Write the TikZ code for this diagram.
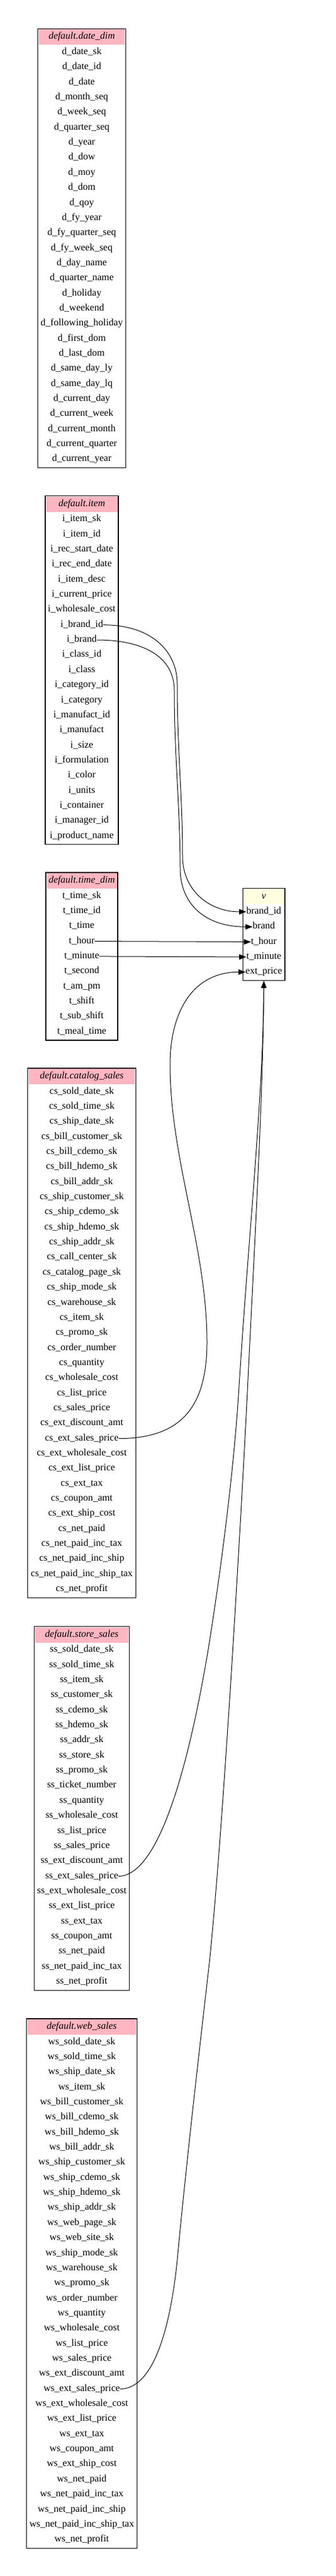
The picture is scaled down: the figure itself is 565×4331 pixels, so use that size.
\documentclass[tikz,border=0pt]{standalone}
\usepackage{fontspec}
\setmainfont{Liberation Serif}
\usetikzlibrary{arrows.meta}
\definecolor{hpink}{HTML}{FFB6C1}
\definecolor{hyellow}{HTML}{FFFFE0}

% name, x, top, width, rows, title, header colour, fields
\newcommand{\dbtable}[8]{%
  \node[tbl, minimum width=#4bp, minimum height={28.5bp+#5*25.35bp}] (#1) at (#2,#3) {};
  \node[hdr, fill=#7, minimum width={#4bp-3bp}] (#1-h) at (#2,#3+1.5) {\textit{#6}};
  \foreach \fieldname [count=\i] in {#8}
    \node[fld] (#1-\i) at (#2,{#3+40.2+(\i-1)*25.35}) {\fieldname};
}

\begin{document}
\catcode`\_=12
\begin{tikzpicture}[x=1bp,y=-1bp,font=\fontsize{16.5bp}{19bp}\selectfont,
    tbl/.style={draw, line width=1.2bp, inner sep=0pt, anchor=north},
    hdr/.style={inner sep=0pt, anchor=north, minimum height=26bp, text height=11bp, text depth=3.8bp},
    fld/.style={inner sep=0pt, text height=11bp, text depth=3.8bp},
    link/.style={line width=1bp, -{Triangle[length=12bp,width=9bp]}}]
    \useasboundingbox (0,0) rectangle (565,4331);

    \dbtable{date}{137.5}{47.7}{148.4}{28}{default.date_dim}{hpink}{d_date_sk,d_date_id,d_date,d_month_seq,d_week_seq,d_quarter_seq,d_year,d_dow,d_moy,d_dom,d_qoy,d_fy_year,d_fy_quarter_seq,d_fy_week_seq,d_day_name,d_quarter_name,d_holiday,d_weekend,d_following_holiday,d_first_dom,d_last_dom,d_same_day_ly,d_same_day_lq,d_current_day,d_current_week,d_current_month,d_current_quarter,d_current_year}
    \dbtable{item}{137.5}{833}{123}{22}{default.item}{hpink}{i_item_sk,i_item_id,i_rec_start_date,i_rec_end_date,i_item_desc,i_current_price,i_wholesale_cost,i_brand_id,i_brand,i_class_id,i_class,i_category_id,i_category,i_manufact_id,i_manufact,i_size,i_formulation,i_color,i_units,i_container,i_manager_id,i_product_name}
    \dbtable{time}{137.5}{1466.3}{121}{10}{default.time_dim}{hpink}{t_time_sk,t_time_id,t_time,t_hour,t_minute,t_second,t_am_pm,t_shift,t_sub_shift,t_meal_time}
    \dbtable{v}{443.65}{1492.7}{70.7}{5}{v}{hyellow}{brand_id,brand,t_hour,t_minute,ext_price}
    \dbtable{catalog}{137.5}{1795.3}{181.3}{34}{default.catalog_sales}{hpink}{cs_sold_date_sk,cs_sold_time_sk,cs_ship_date_sk,cs_bill_customer_sk,cs_bill_cdemo_sk,cs_bill_hdemo_sk,cs_bill_addr_sk,cs_ship_customer_sk,cs_ship_cdemo_sk,cs_ship_hdemo_sk,cs_ship_addr_sk,cs_call_center_sk,cs_catalog_page_sk,cs_ship_mode_sk,cs_warehouse_sk,cs_item_sk,cs_promo_sk,cs_order_number,cs_quantity,cs_wholesale_cost,cs_list_price,cs_sales_price,cs_ext_discount_amt,cs_ext_sales_price,cs_ext_wholesale_cost,cs_ext_list_price,cs_ext_tax,cs_coupon_amt,cs_ext_ship_cost,cs_net_paid,cs_net_paid_inc_tax,cs_net_paid_inc_ship,cs_net_paid_inc_ship_tax,cs_net_profit}
    \dbtable{store}{137.5}{2734}{160.7}{23}{default.store_sales}{hpink}{ss_sold_date_sk,ss_sold_time_sk,ss_item_sk,ss_customer_sk,ss_cdemo_sk,ss_hdemo_sk,ss_addr_sk,ss_store_sk,ss_promo_sk,ss_ticket_number,ss_quantity,ss_wholesale_cost,ss_list_price,ss_sales_price,ss_ext_discount_amt,ss_ext_sales_price,ss_ext_wholesale_cost,ss_ext_list_price,ss_ext_tax,ss_coupon_amt,ss_net_paid,ss_net_paid_inc_tax,ss_net_profit}
    \dbtable{web}{137.5}{3393.3}{186.4}{34}{default.web_sales}{hpink}{ws_sold_date_sk,ws_sold_time_sk,ws_ship_date_sk,ws_item_sk,ws_bill_customer_sk,ws_bill_cdemo_sk,ws_bill_hdemo_sk,ws_bill_addr_sk,ws_ship_customer_sk,ws_ship_cdemo_sk,ws_ship_hdemo_sk,ws_ship_addr_sk,ws_web_page_sk,ws_web_site_sk,ws_ship_mode_sk,ws_warehouse_sk,ws_promo_sk,ws_order_number,ws_quantity,ws_wholesale_cost,ws_list_price,ws_sales_price,ws_ext_discount_amt,ws_ext_sales_price,ws_ext_wholesale_cost,ws_ext_list_price,ws_ext_tax,ws_coupon_amt,ws_ext_ship_cost,ws_net_paid,ws_net_paid_inc_tax,ws_net_paid_inc_ship,ws_net_paid_inc_ship_tax,ws_net_profit}

    % lineage into v
    \draw[link] (item-8.east) .. controls (255,1050.65) and (298,1095) .. (298,1150) .. controls (298,1260) and (307,1340) .. (307,1440) .. controls (307,1495) and (350,1532.9) .. (v-1.west);
    \draw[link] (item-9.east) .. controls (250,1076) and (293,1110) .. (293,1160) .. controls (293,1270) and (303,1360) .. (303,1460) .. controls (303,1520) and (345,1558.25) .. (v-2.west);
    \draw[link] (time-4.east) -- (v-3.west);
    \draw[link] (time-5.east) -- (v-4.west);
    \draw[link] (catalog-24.east) .. controls (305,2418.55) and (347,2365) .. (348,2260) .. controls (349,2100) and (286,1950) .. (286,1790) .. controls (286,1700) and (325,1634.3) .. (v-5.west);
    \draw[link] (store-16.east) .. controls (265,3154.45) and (315,2980) .. (349,2780) .. controls (375,2620) and (395,2450) .. (402,2330) .. controls (420,2050) and (442,1850) .. (v.south);
    \draw[link] (web-24.east) .. controls (262,4016.55) and (288,3900) .. (298,3800) .. controls (315,3620) and (335,3450) .. (352,3300) .. controls (375,3080) and (405,2560) .. (416,2340) .. controls (430,2050) and (442,1850) .. (v.south);
\end{tikzpicture}
\end{document}
